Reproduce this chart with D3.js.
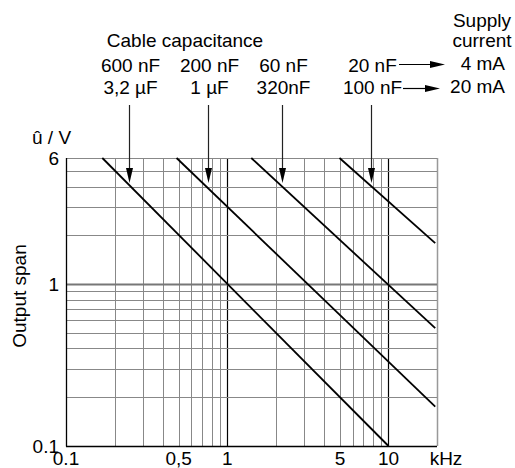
<!DOCTYPE html>
<html>
<head>
<meta charset="utf-8">
<script src="https://cdn.jsdelivr.net/npm/d3@7"></script>
<style>
  body { margin: 0; background: #fff; }
  svg text { font-family: "Liberation Sans", Arial, sans-serif; font-size: 19px; fill: #000; }
</style>
</head>
<body>
<div id="chart"></div>
<script>
// cable capacitance per curve, for 4 mA and 20 mA supply current
var cap4mA = ["600 nF", "200 nF", "60 nF", "20 nF"];
var cap20mA = ["3,2 µF", "1 µF", "320nF", "100 nF"];
// each curve as [start, end] points: frequency in kHz, output span in V
var curveFreq = [[0.168, 10], [0.485, 19.5], [1.41, 19.5], [4.97, 19.5]];
var curveSpan = [[6, 0.1], [6, 0.175], [6, 0.534], [6, 1.79]];
// where the arrows point on each curve
var arrowFreq = [0.247, 0.761, 2.2, 7.74];
var arrowSpan = 4.2;
var currents = ["4 mA", "20 mA"];
var xTicks = [0.1, 0.5, 1, 5, 10];
var xTickLabels = ["0.1", "0,5", "1", "5", "10"];
var yTicks = [0.1, 1, 6];
var yTickLabels = ["0.1", "1", "6"];

var width = 515, height = 468;
var svg = d3.select("#chart").append("svg")
    .attr("width", width).attr("height", height);

var x = d3.scaleLog().domain([0.1, 20]).range([66, 437]);
var y = d3.scaleLog().domain([0.1, 6]).range([446, 158]);

function px(v) { return Math.round(v) + 0.5; }

// grid
var grid = svg.append("g");
x.ticks().forEach(function (t) {
    if (t <= 0.1) return;
    var dark = (t === 1 || t === 10);
    grid.append("line")
        .attr("x1", px(x(t))).attr("x2", px(x(t)))
        .attr("y1", y(6)).attr("y2", y(0.1))
        .attr("stroke", dark ? "#000" : (t === 20 ? "#999" : "#888"))
        .attr("stroke-width", dark ? 1.2 : (t === 20 ? 1.5 : 1));
});
y.ticks().concat([6]).forEach(function (t) {
    if (t <= 0.1) return;
    grid.append("line")
        .attr("x1", x(0.1)).attr("x2", x(20))
        .attr("y1", px(y(t))).attr("y2", px(y(t)))
        .attr("stroke", t === 1 ? "#777" : "#888")
        .attr("stroke-width", t === 1 ? 2 : 1);
});
// left and bottom frame
svg.append("line")
    .attr("x1", px(x(0.1))).attr("x2", px(x(0.1)))
    .attr("y1", y(6)).attr("y2", y(0.1) + 0.5)
    .attr("stroke", "#000").attr("stroke-width", 1.3);
svg.append("line")
    .attr("x1", x(0.1)).attr("x2", x(20))
    .attr("y1", px(y(0.1))).attr("y2", px(y(0.1)))
    .attr("stroke", "#000").attr("stroke-width", 1.3);

// curves
var line = d3.line().x(function (d) { return x(d[0]); }).y(function (d) { return y(d[1]); });
curveFreq.forEach(function (f, i) {
    var pts = f.map(function (v, j) { return [v, curveSpan[i][j]]; });
    svg.append("path")
        .attr("d", line(pts))
        .attr("fill", "none")
        .attr("stroke", "#000")
        .attr("stroke-width", 1.8);
});

// capacitance arrows and labels
arrowFreq.forEach(function (f, i) {
    var ax = px(x(f)), tip = y(arrowSpan);
    svg.append("line")
        .attr("x1", ax).attr("x2", ax)
        .attr("y1", 105).attr("y2", tip - 10)
        .attr("stroke", "#222").attr("stroke-width", 1.2);
    svg.append("path")
        .attr("d", "M" + (ax - 3.5) + "," + (tip - 15) + "L" + (ax + 3.5) + "," + (tip - 15) + "L" + ax + "," + tip + "Z")
        .attr("fill", "#000");
    svg.append("text").attr("x", ax + 1).attr("y", 72)
        .attr("text-anchor", "middle").text(cap4mA[i]);
    svg.append("text").attr("x", ax + 1).attr("y", 94)
        .attr("text-anchor", "middle").text(cap20mA[i]);
});

svg.append("text").attr("x", 185).attr("y", 47)
    .attr("text-anchor", "middle").text("Cable capacitance");

svg.append("text").attr("x", 482).attr("y", 27)
    .attr("text-anchor", "middle").text("Supply");
svg.append("text").attr("x", 482).attr("y", 47)
    .attr("text-anchor", "middle").text("current");

// supply current arrows
var rows = [{ y: 64.5, x1: 399, x2: 445 }, { y: 88.5, x1: 403, x2: 440 }];
rows.forEach(function (r, i) {
    svg.append("line")
        .attr("x1", r.x1).attr("x2", r.x2 - 10)
        .attr("y1", r.y).attr("y2", r.y)
        .attr("stroke", "#000").attr("stroke-width", 1.2);
    svg.append("path")
        .attr("d", "M" + (r.x2 - 15) + "," + (r.y - 3.5) + "L" + r.x2 + "," + r.y + "L" + (r.x2 - 15) + "," + (r.y + 3.5) + "Z")
        .attr("fill", "#000");
    svg.append("text").attr("x", 505).attr("y", i === 0 ? 70 : 93)
        .attr("text-anchor", "end").text(currents[i]);
});

// axes labels
xTicks.forEach(function (t, i) {
    svg.append("text").attr("x", x(t)).attr("y", 465)
        .attr("text-anchor", "middle").text(xTickLabels[i]);
});
svg.append("text").attr("x", 446).attr("y", 465)
    .attr("text-anchor", "middle").text("kHz");

yTicks.forEach(function (t, i) {
    svg.append("text").attr("x", 59).attr("y", y(t) + 6.5)
        .attr("text-anchor", "end").text(yTickLabels[i]);
});
svg.append("text").attr("x", 32).attr("y", 144).text("û / V");
svg.append("text")
    .attr("transform", "translate(26,296) rotate(-90)")
    .attr("text-anchor", "middle").text("Output span");
</script>
</body>
</html>
